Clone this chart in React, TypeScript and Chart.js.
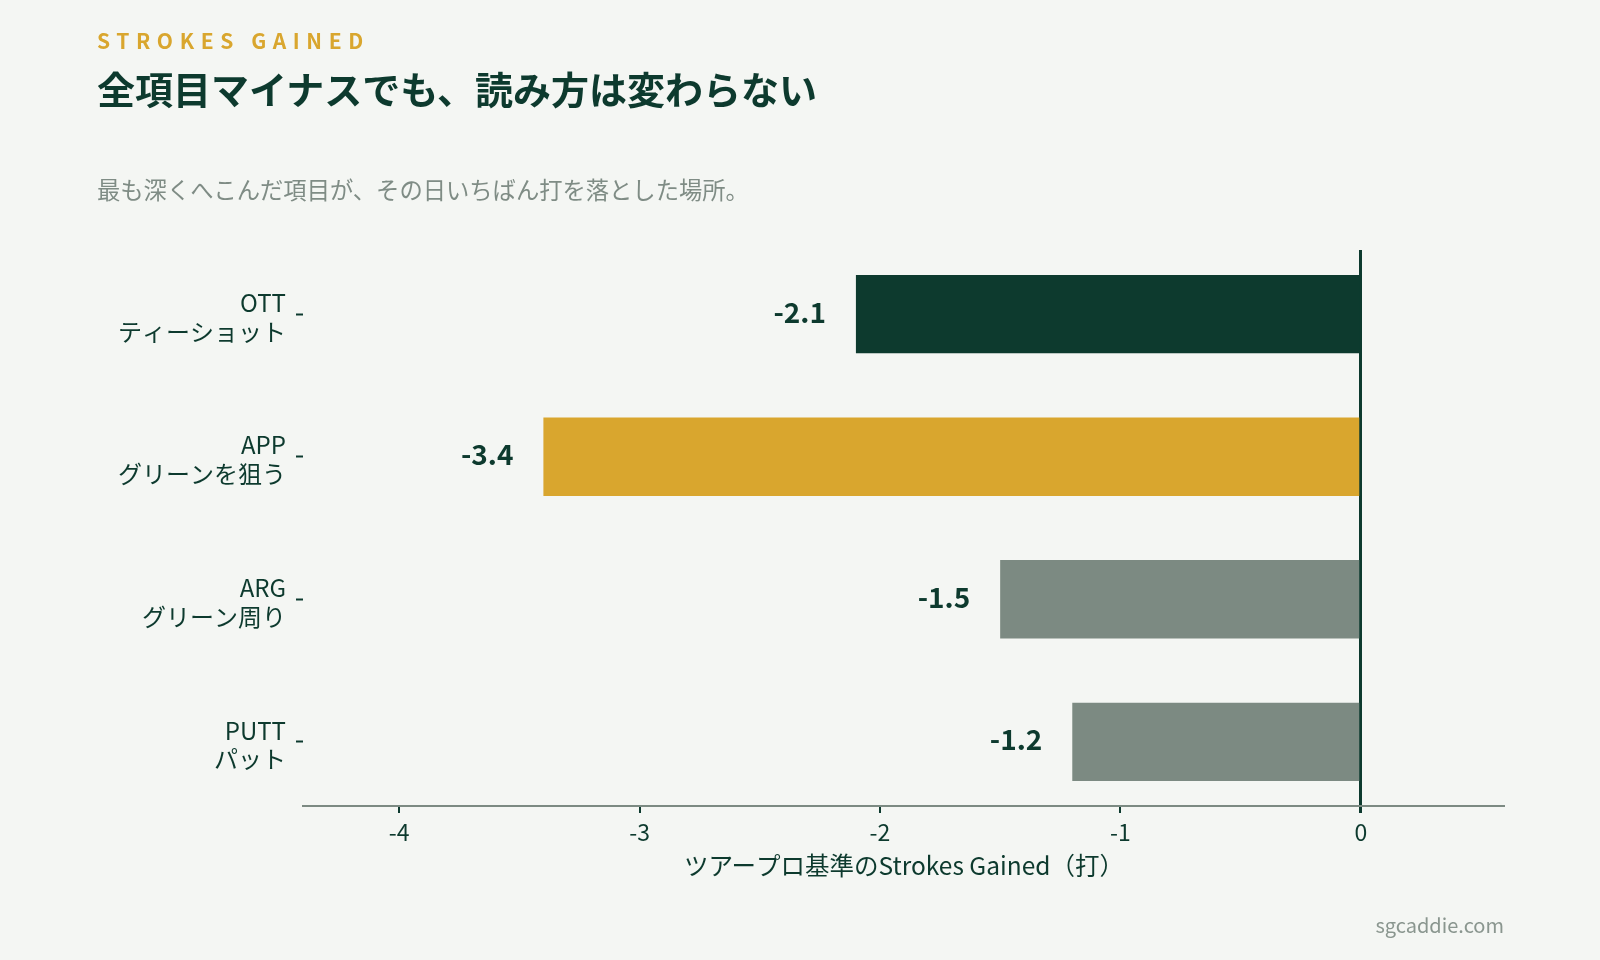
import { useEffect, useRef } from 'react'
import { Chart, registerables } from 'chart.js'

Chart.register(...registerables)

const categories = ['OTT', 'APP', 'ARG', 'PUTT']
const categoryNames = ['ティーショット', 'グリーンを狙う', 'グリーン周り', 'パット']
const strokesGained = [-2.1, -3.4, -1.5, -1.2]
const barColors = ['#0d3a2e', '#d9a62e', '#7c8a82', '#7c8a82']
const xTicks = [-4, -3, -2, -1, 0]

const DARK = '#0d3a2e'
const GOLD = '#d9a62e'
const GRAY = '#7c8a82'
const BG = '#f4f6f3'
const FONT = '"Noto Sans CJK JP", "Noto Sans", sans-serif'

// draws "-2.1" etc. just left of each bar's end
const valueLabels = {
  id: 'valueLabels',
  afterDatasetsDraw(chart: Chart) {
    const { ctx } = chart
    const meta = chart.getDatasetMeta(0)
    ctx.save()
    ctx.font = `700 28px ${FONT}`
    ctx.fillStyle = DARK
    ctx.textAlign = 'right'
    ctx.textBaseline = 'middle'
    meta.data.forEach((bar: any, i: number) => {
      ctx.fillText(strokesGained[i].toFixed(1), bar.x - 30, bar.y - 2)
    })
    ctx.restore()
  },
}

function StrokesChart() {
  const canvasRef = useRef<HTMLCanvasElement>(null)
  const chartRef = useRef<Chart | null>(null)

  useEffect(() => {
    if (!canvasRef.current) return
    if (chartRef.current) chartRef.current.destroy()

    Chart.defaults.font.family = FONT

    chartRef.current = new Chart(canvasRef.current, {
      type: 'bar',
      data: {
        datasets: [
          {
            data: strokesGained.map((v, i) => ({ x: v, y: i })),
            backgroundColor: barColors,
            borderWidth: 0,
            barPercentage: 0.55,
            categoryPercentage: 1,
          },
        ],
      },
      options: {
        indexAxis: 'y',
        responsive: false,
        animation: false,
        devicePixelRatio: 1,
        layout: { padding: { top: 250, right: 95, bottom: 74, left: 0 } },
        plugins: {
          legend: { display: false },
          tooltip: { enabled: false },
        },
        scales: {
          x: {
            type: 'linear',
            min: -4.4,
            max: 0.6,
            z: 1,
            afterBuildTicks: (s: any) => {
              s.ticks = xTicks.map((v) => ({ value: v }))
            },
            afterFit: (s: any) => {
              s.height = 80
            },
            grid: {
              drawOnChartArea: true,
              color: (c: any) => (c.tick && c.tick.value === 0 ? DARK : 'transparent'),
              lineWidth: (c: any) => (c.tick && c.tick.value === 0 ? 3 : 0),
              tickColor: DARK,
              tickLength: 7,
              tickWidth: (c: any) => (c.tick && c.tick.value === 0 ? 3 : 2),
            },
            border: { display: true, color: GRAY, width: 2 },
            ticks: {
              color: DARK,
              font: { size: 23 },
              padding: 5,
              callback: (v: any) => String(v),
            },
            title: {
              display: true,
              text: 'ツアープロ基準のStrokes Gained（打）',
              color: DARK,
              font: { size: 24.5 },
              padding: { top: 0, bottom: 6 },
            },
          },
          y: {
            type: 'linear',
            min: -0.45,
            max: 3.45,
            reverse: true,
            offset: false,
            afterBuildTicks: (s: any) => {
              s.ticks = categories.map((_, i) => ({ value: i }))
            },
            afterFit: (s: any) => {
              s.width = 303
            },
            grid: {
              offset: false,
              drawOnChartArea: false,
              tickColor: DARK,
              tickLength: 7,
              tickWidth: 2,
            },
            border: { display: false },
            ticks: {
              color: DARK,
              font: { size: 24, lineHeight: 1.2 },
              padding: 10,
              labelOffset: 3,
              callback: (v: any) => [categories[v], categoryNames[v]],
            },
          },
        },
      },
      plugins: [valueLabels],
    } as any)

    return () => {
      if (chartRef.current) {
        chartRef.current.destroy()
        chartRef.current = null
      }
    }
  }, [])

  return <canvas ref={canvasRef} width={1600} height={960} style={{ position: 'absolute', left: 0, top: 0 }} />
}

export default function App() {
  return (
    <div
      style={{
        position: 'fixed',
        left: 0,
        top: 0,
        width: 1600,
        height: 960,
        background: BG,
        overflow: 'hidden',
        fontFamily: FONT,
      }}
    >
      <StrokesChart />
      <div
        style={{
          position: 'absolute',
          left: 97,
          top: 30,
          fontSize: 21,
          lineHeight: 1,
          fontWeight: 700,
          letterSpacing: 6.6,
          color: GOLD,
        }}
      >
        STROKES GAINED
      </div>
      <div
        style={{
          position: 'absolute',
          left: 97,
          top: 69,
          fontSize: 38,
          lineHeight: 1,
          fontWeight: 700,
          color: DARK,
        }}
      >
        全項目マイナスでも、読み方は変わらない
      </div>
      <div
        style={{
          position: 'absolute',
          left: 97,
          top: 178,
          fontSize: 23.3,
          lineHeight: 1,
          color: '#7f8c85',
        }}
      >
        最も深くへこんだ項目が、その日いちばん打を落とした場所。
      </div>
      <div
        style={{
          position: 'absolute',
          right: 96,
          top: 915,
          fontSize: 20,
          lineHeight: 1,
          color: '#8a968f',
        }}
      >
        sgcaddie.com
      </div>
    </div>
  )
}
